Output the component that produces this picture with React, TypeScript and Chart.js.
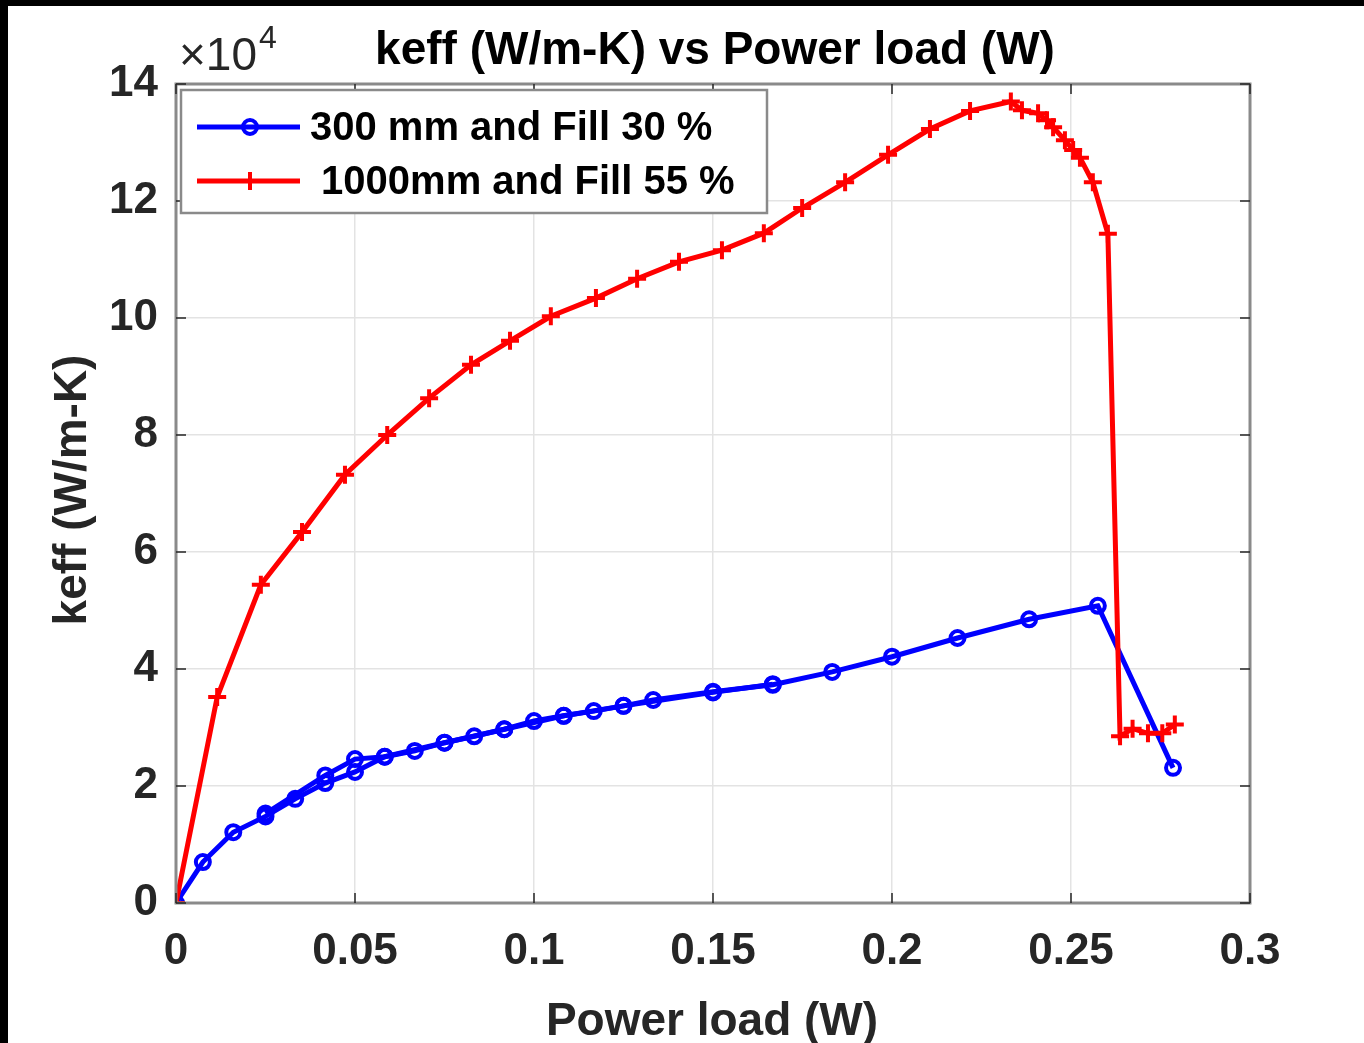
import React, { useEffect, useRef } from "react";
import { Chart, registerables } from "chart.js";

Chart.register(...registerables);

// ---- data (keff in units of 1e4 W/m-K) ----
const blueX = [0, 0.0075, 0.016, 0.025, 0.0333, 0.0417, 0.05, 0.0583, 0.0667, 0.075, 0.0833, 0.0917, 0.1, 0.1083, 0.1167, 0.125, 0.1333, 0.15, 0.1667, 0.1833, 0.2, 0.2183, 0.2383, 0.2575, 0.2785];
const blueY = [0, 0.7, 1.21, 1.48, 1.78, 2.05, 2.24, 2.5, 2.6, 2.74, 2.85, 2.97, 3.11, 3.2, 3.28, 3.37, 3.47, 3.61, 3.73, 3.95, 4.21, 4.53, 4.85, 5.08, 2.31];

const blue2X = [0.025, 0.0417, 0.05, 0.0583, 0.075, 0.0917, 0.1083, 0.125, 0.15, 0.1667];
const blue2Y = [1.53, 2.18, 2.46, 2.5, 2.74, 2.97, 3.2, 3.37, 3.6, 3.74];

const redX = [0, 0.0115, 0.0237, 0.0352, 0.0472, 0.059, 0.0707, 0.0824, 0.0933, 0.1047, 0.1173, 0.1288, 0.1405, 0.1525, 0.1642, 0.1749, 0.1869, 0.1989, 0.2106, 0.2218, 0.2332, 0.2363, 0.2408, 0.2433, 0.245, 0.2483, 0.2506, 0.2525, 0.2561, 0.2603, 0.2637, 0.2672, 0.2715, 0.2755, 0.279];
const redY = [0, 3.52, 5.44, 6.34, 7.32, 8.0, 8.63, 9.2, 9.61, 10.03, 10.34, 10.67, 10.96, 11.16, 11.45, 11.88, 12.32, 12.79, 13.23, 13.54, 13.7, 13.55, 13.5, 13.38, 13.26, 13.04, 12.87, 12.74, 12.32, 11.44, 2.85, 2.98, 2.9, 2.9, 3.05];

const xTickLabels = ["0", "0.05", "0.1", "0.15", "0.2", "0.25", "0.3"];
const yTickLabels = ["0", "2", "4", "6", "8", "10", "12", "14"];

const seriesNames = ["300 mm and Fill 30 %", " 1000mm and Fill 55 %"];
const titleText = "keff (W/m-K) vs Power load (W)";
const xTitle = "Power load (W)";
const yTitle = "keff (W/m-K)";

const BLUE = "#0000ff";
const RED = "#ff0000";
const FONT = "'Liberation Sans', Arial, sans-serif";

const zip = (xs: number[], ys: number[]) => xs.map((x, i) => ({ x, y: ys[i] }));

const decorPlugin = {
  id: "decor",
  afterDraw(chart: any) {
    const ctx = chart.ctx as CanvasRenderingContext2D;
    const a = chart.chartArea;
    const xs = chart.scales.x;
    const ys = chart.scales.y;
    ctx.save();
    // axis box
    ctx.strokeStyle = "#8a8a8a";
    ctx.lineWidth = 3;
    ctx.strokeRect(a.left, a.top, a.right - a.left, a.bottom - a.top);
    // inner tick marks
    ctx.strokeStyle = "#262626";
    ctx.lineWidth = 1.5;
    xs.ticks.forEach((t: any) => {
      const px = xs.getPixelForValue(t.value);
      ctx.beginPath();
      ctx.moveTo(px, a.bottom);
      ctx.lineTo(px, a.bottom - 10);
      ctx.moveTo(px, a.top);
      ctx.lineTo(px, a.top + 10);
      ctx.stroke();
    });
    ys.ticks.forEach((t: any) => {
      const py = ys.getPixelForValue(t.value);
      ctx.beginPath();
      ctx.moveTo(a.left, py);
      ctx.lineTo(a.left + 10, py);
      ctx.moveTo(a.right, py);
      ctx.lineTo(a.right - 10, py);
      ctx.stroke();
    });
    // title
    ctx.fillStyle = "#000";
    ctx.textAlign = "center";
    ctx.textBaseline = "alphabetic";
    ctx.font = `bold 46px ${FONT}`;
    ctx.fillText(titleText, 707, 58);
    // multiplier
    ctx.fillStyle = "#262626";
    ctx.textAlign = "left";
    ctx.font = `46px ${FONT}`;
    ctx.fillText("\u00d710", 171, 64);
    const w = ctx.measureText("\u00d710").width;
    ctx.font = `32px ${FONT}`;
    ctx.fillText("4", 171 + w + 2, 42);
    // axis titles
    ctx.fillStyle = "#262626";
    ctx.font = `bold 46px ${FONT}`;
    ctx.textAlign = "center";
    ctx.fillText(xTitle, 704, 1029);
    ctx.save();
    ctx.translate(78, 484);
    ctx.rotate(-Math.PI / 2);
    ctx.fillText(yTitle, 0, 0);
    ctx.restore();
    // legend
    const lx = 173, ly = 84, lw = 586, lh = 123;
    ctx.fillStyle = "#fff";
    ctx.fillRect(lx, ly, lw, lh);
    ctx.strokeStyle = "#8a8a8a";
    ctx.lineWidth = 2.5;
    ctx.strokeRect(lx, ly, lw, lh);
    const rows = [
      { y: 121, color: BLUE, marker: "circle" },
      { y: 175, color: RED, marker: "cross" },
    ];
    rows.forEach((r, i) => {
      ctx.strokeStyle = r.color;
      ctx.lineWidth = 5;
      ctx.beginPath();
      ctx.moveTo(189, r.y);
      ctx.lineTo(292, r.y);
      ctx.stroke();
      ctx.lineWidth = 4;
      ctx.beginPath();
      if (r.marker === "circle") {
        ctx.arc(242, r.y, 7, 0, Math.PI * 2);
      } else {
        ctx.moveTo(233, r.y);
        ctx.lineTo(251, r.y);
        ctx.moveTo(242, r.y - 9);
        ctx.lineTo(242, r.y + 9);
      }
      ctx.stroke();
      ctx.fillStyle = "#000";
      ctx.textAlign = "left";
      ctx.textBaseline = "middle";
      ctx.font = `bold 40px ${FONT}`;
      ctx.fillText(seriesNames[i], 302, r.y + 2);
    });
    ctx.restore();
  },
};

export default function App() {
  const ref = useRef<HTMLCanvasElement | null>(null);
  useEffect(() => {
    if (!ref.current) return;
    const chart = new Chart(ref.current, {
      type: "scatter",
      data: {
        datasets: [
          {
            label: seriesNames[1],
            data: zip(redX, redY),
            showLine: true,
            borderColor: RED,
            backgroundColor: RED,
            borderWidth: 5,
            pointStyle: "cross",
            pointRadius: 9,
            pointBorderWidth: 4,
            pointBorderColor: RED,
            order: 1,
          },
          {
            label: seriesNames[0],
            data: zip(blueX, blueY),
            showLine: true,
            borderColor: BLUE,
            backgroundColor: "rgba(0,0,0,0)",
            borderWidth: 5,
            pointStyle: "circle",
            pointRadius: 7,
            pointBorderWidth: 4,
            pointBorderColor: BLUE,
            order: 2,
          },
          {
            label: "",
            data: zip(blue2X, blue2Y),
            showLine: true,
            borderColor: BLUE,
            backgroundColor: "rgba(0,0,0,0)",
            borderWidth: 5,
            pointStyle: "circle",
            pointRadius: 7,
            pointBorderWidth: 4,
            pointBorderColor: BLUE,
            order: 3,
          },
        ],
      },
      options: {
        responsive: false,
        animation: false,
        devicePixelRatio: 1,
        layout: { padding: { left: 0, top: 78, right: 114, bottom: 0 } },
        plugins: { legend: { display: false }, tooltip: { enabled: false }, title: { display: false } },
        scales: {
          x: {
            type: "linear",
            min: 0,
            max: 0.3,
            ticks: {
              stepSize: 0.05,
              autoSkip: false,
              maxRotation: 0,
              padding: 22,
              color: "#262626",
              font: { family: FONT, size: 44, weight: "bold" },
              callback: (_v: any, i: number) => xTickLabels[i],
            },
            grid: { color: "#e3e3e3", lineWidth: 1.5, drawTicks: false },
            border: { display: false },
            afterFit: (s: any) => { s.height = 140; },
          },
          y: {
            type: "linear",
            min: 0,
            max: 14,
            ticks: {
              stepSize: 2,
              autoSkip: false,
              padding: 18,
              color: "#262626",
              font: { family: FONT, size: 44, weight: "bold" },
              callback: (_v: any, i: number) => yTickLabels[i],
            },
            grid: { color: "#e3e3e3", lineWidth: 1.5, drawTicks: false },
            border: { display: false },
            afterFit: (s: any) => { s.width = 168; },
          },
        },
      },
      plugins: [decorPlugin],
    } as any);
    return () => chart.destroy();
  }, []);
  return (
    <div style={{ background: "#000", width: 1364, height: 1043, paddingLeft: 8, paddingTop: 6, boxSizing: "border-box" }}>
      <style>{`body{margin:0;background:#000}`}</style>
      <div style={{ background: "#fff", width: 1356, height: 1037 }}>
        <canvas ref={ref} width={1356} height={1037} style={{ display: "block" }} />
      </div>
    </div>
  );
}
